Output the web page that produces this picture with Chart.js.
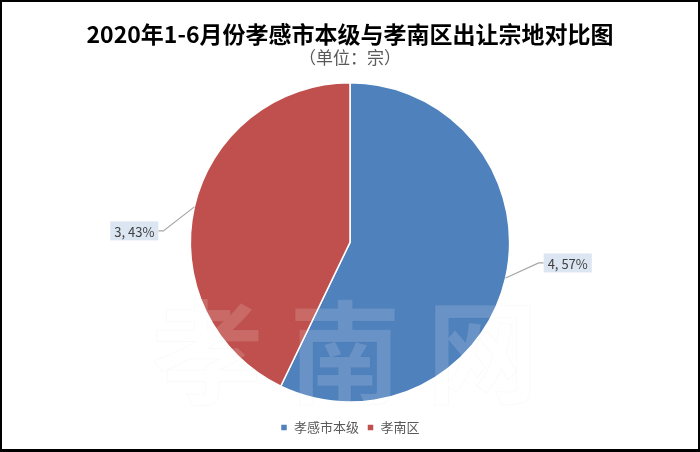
<!DOCTYPE html>
<html>
<head>
<meta charset="utf-8">
<script src="https://cdn.jsdelivr.net/npm/chart.js@4"></script>
<style>
  body { margin: 0; background: #fff; }
  #wrap { width: 700px; height: 452px; box-sizing: border-box; border: 2px solid #000; border-bottom-width: 3px; background: #fff; }
</style>
</head>
<body>
<div id="wrap"><canvas id="landChart" width="696" height="447"></canvas></div>
<script>
const areas = ['孝感市本级', '孝南区'];
const parcelCounts = [4, 3];
const sliceColors = ['#4F81BD', '#C0504D'];

const font = '"Noto Sans CJK SC", "Noto Sans", sans-serif';

// labels with leader lines, like the office chart
const leaderLabels = {
    id: 'leaderLabels',
    afterDatasetsDraw(chart) {
        const ctx = chart.ctx;
        const meta = chart.getDatasetMeta(0);
        const total = parcelCounts.reduce((a, b) => a + b, 0);
        const offsets = [[33, -15, 'left'], [-31, 24, 'right']];
        ctx.save();
        ctx.font = '13px ' + font;
        meta.data.forEach((arc, i) => {
            const p = arc.getProps(['x', 'y', 'startAngle', 'endAngle', 'outerRadius'], true);
            const mid = (p.startAngle + p.endAngle) / 2;
            const ex = p.x + Math.cos(mid) * p.outerRadius;
            const ey = p.y + Math.sin(mid) * p.outerRadius;
            const [dx, dy, side] = offsets[i];
            const bx = ex + dx, by = ey + dy;
            const text = parcelCounts[i] + ', ' + Math.round(parcelCounts[i] / total * 100) + '%';
            const w = ctx.measureText(text).width + 8;
            const h = 19;
            const stub = 5;
            ctx.strokeStyle = '#A6A6A6';
            ctx.lineWidth = 1.2;
            ctx.beginPath();
            ctx.moveTo(ex, ey);
            ctx.lineTo(bx, by);
            ctx.lineTo(side === 'left' ? bx + stub : bx - stub, by);
            ctx.stroke();
            const left = side === 'left' ? bx + stub : bx - stub - w;
            ctx.fillStyle = '#DCE6F2';
            ctx.fillRect(left, by - h / 2, w, h);
            ctx.fillStyle = '#404040';
            ctx.textAlign = 'left';
            ctx.textBaseline = 'middle';
            ctx.fillText(text, left + 4, by + 1);
        });
        ctx.restore();
    }
};

// faint site watermark over the lower part
const watermark = {
    id: 'watermark',
    afterDraw(chart) {
        const ctx = chart.ctx;
        ctx.save();
        ctx.font = 'bold 112px ' + font;
        ctx.textAlign = 'center';
        ctx.textBaseline = 'middle';
        ctx.fillStyle = 'rgba(255,255,255,0.15)';
        ctx.fillText('孝 南 网', 343, 350);
        ctx.strokeStyle = 'rgba(0,0,0,0.025)';
        ctx.lineWidth = 1;
        ctx.strokeText('孝 南 网', 343, 350);
        ctx.restore();
    }
};

const ctxPie = document.getElementById('landChart').getContext('2d');
const landChart = new Chart(ctxPie, {
    type: 'pie',
    data: {
        labels: areas,
        datasets: [{
            data: parcelCounts,
            backgroundColor: sliceColors,
            borderColor: '#fff',
            borderWidth: 1.5
        }]
    },
    options: {
        responsive: false,
        animation: false,
        layout: { padding: { top: 4, bottom: 5 } },
        plugins: {
            title: {
                display: true,
                text: '2020年1-6月份孝感市本级与孝南区出让宗地对比图',
                color: '#000',
                font: { family: font, size: 23, weight: 'bold' },
                padding: { top: 14, bottom: 0 }
            },
            subtitle: {
                display: true,
                text: '（单位：宗）',
                color: '#595959',
                font: { family: font, size: 17 },
                padding: { top: 0, bottom: 14 }
            },
            legend: {
                position: 'bottom',
                title: { display: true, text: ' ', font: { size: 1 }, padding: { top: 9, bottom: 0 } },
                labels: {
                    usePointStyle: true,
                    pointStyle: 'rect',
                    boxWidth: 7,
                    boxHeight: 7,
                    color: '#595959',
                    font: { family: font, size: 13 },
                    padding: 8
                }
            },
            tooltip: { enabled: false }
        }
    },
    plugins: [leaderLabels, watermark]
});
</script>
</body>
</html>
